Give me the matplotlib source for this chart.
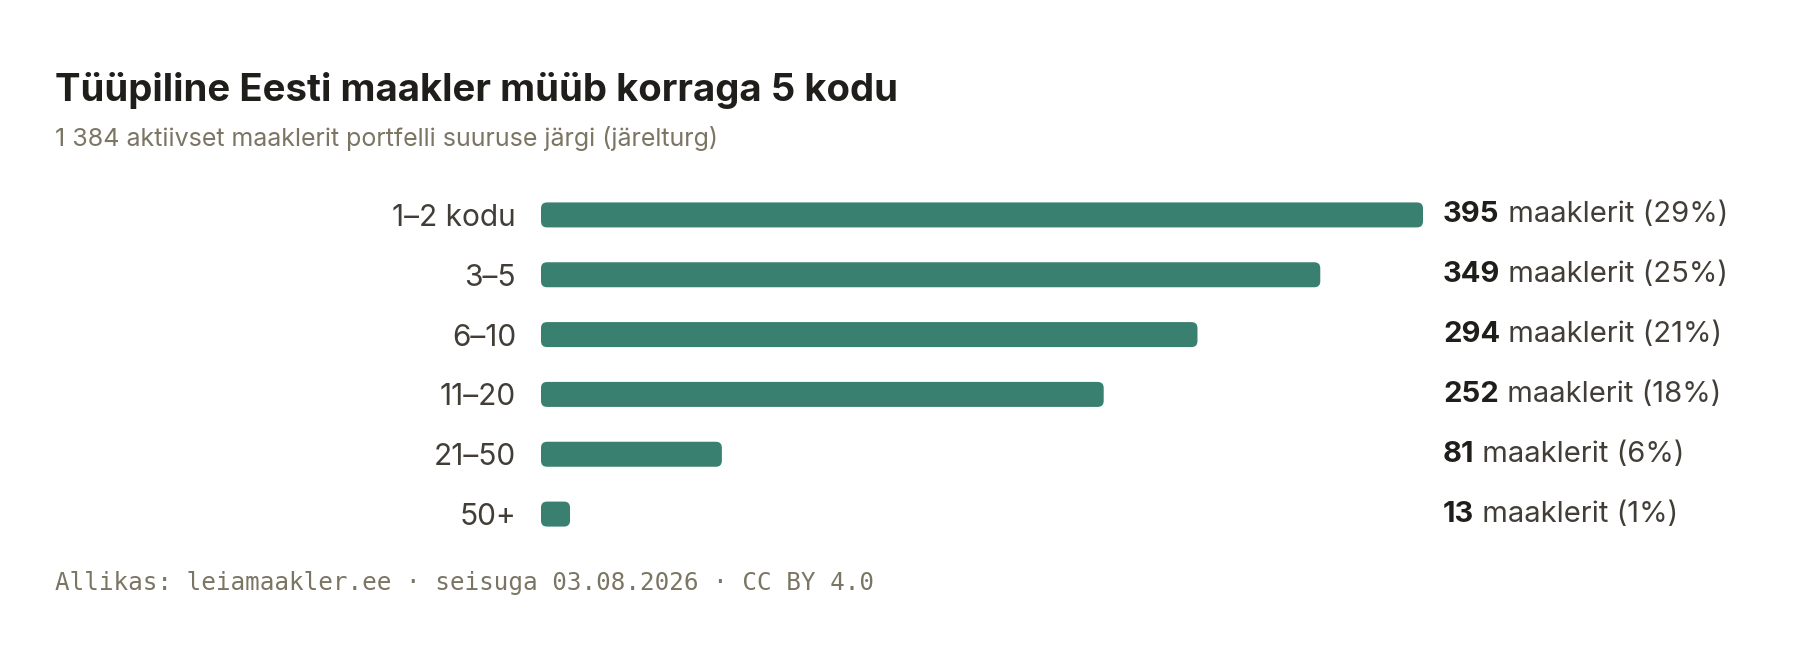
import matplotlib
matplotlib.use("Agg")
from matplotlib import pyplot as plt
from matplotlib.patches import FancyBboxPatch
from matplotlib.transforms import blended_transform_factory

categories = ["1–2 kodu", "3–5", "6–10", "11–20", "21–50", "50+"]
counts = [395, 349, 294, 252, 81, 13]
shares = [29, 25, 21, 18, 6, 1]

title = "Tüüpiline Eesti maakler müüb korraga 5 kodu"
subtitle = "1 384 aktiivset maaklerit portfelli suuruse järgi (järelturg)"
footer = "Allikas: leiamaakler.ee · seisuga 03.08.2026 · CC BY 4.0"

W, H = 1800, 658
BAR = "#3a8070"
DARK = "#1f1e1b"
TXT = "#423e37"
MUTED = "#7b7563"

plt.rcParams["font.family"] = ["Inter", "DejaVu Sans"]

fig = plt.figure(figsize=(W / 100, H / 100), dpi=100)
fig.patch.set_facecolor("white")

# axes placed in pixel terms
x0, x1 = 541, 1423
ytop, ybot = 185, 544
ax = fig.add_axes([x0 / W, 1 - ybot / H, (x1 - x0) / W, (ybot - ytop) / H])
ax.set_xlim(0, max(counts))
ax.set_ylim(len(categories) - 0.5, -0.5)
for s in ax.spines.values():
    s.set_visible(False)
ax.set_xticks([])
ax.set_yticks(range(len(categories)))
ax.set_yticklabels(categories, fontsize=21.5, color=TXT)
ax.tick_params(axis="y", length=0, pad=18)

# rounded bars
px_x = (x1 - x0) / max(counts)
px_y = (ybot - ytop) / len(categories)
aspect = px_x / px_y
bh = 25 / px_y
rad = 6 / px_x
for i, v in enumerate(counts):
    p = FancyBboxPatch((0, i - bh / 2), v, bh,
                       boxstyle=f"round,pad=0,rounding_size={rad}",
                       mutation_aspect=aspect, fc=BAR, ec="none")
    ax.add_patch(p)

# value labels
tr = blended_transform_factory(ax.transAxes, ax.transData)
lx = 1 + 20 / (x1 - x0)
for i, (v, s) in enumerate(zip(counts, shares)):
    t = ax.text(lx, i, str(v), transform=tr, fontsize=21, fontweight="bold",
                color=DARK, va="center", ha="left", clip_on=False)
    ax.annotate(f" maaklerit ({s}%)", xy=(1, 0), xycoords=t, fontsize=21,
                color=TXT, va="bottom", ha="left", annotation_clip=False)

fig.text(55 / W, 1 - 101 / H, title, fontsize=27.6, fontweight="bold",
         color=DARK, va="baseline", ha="left")
fig.text(55 / W, 1 - 146 / H, subtitle, fontsize=18, color=MUTED,
         va="baseline", ha="left")
fig.text(55 / W, 1 - 590 / H, footer, fontsize=17.5, color=MUTED,
         family="DejaVu Sans Mono", va="baseline", ha="left")

fig.savefig("out.png", dpi=100, facecolor="white")
